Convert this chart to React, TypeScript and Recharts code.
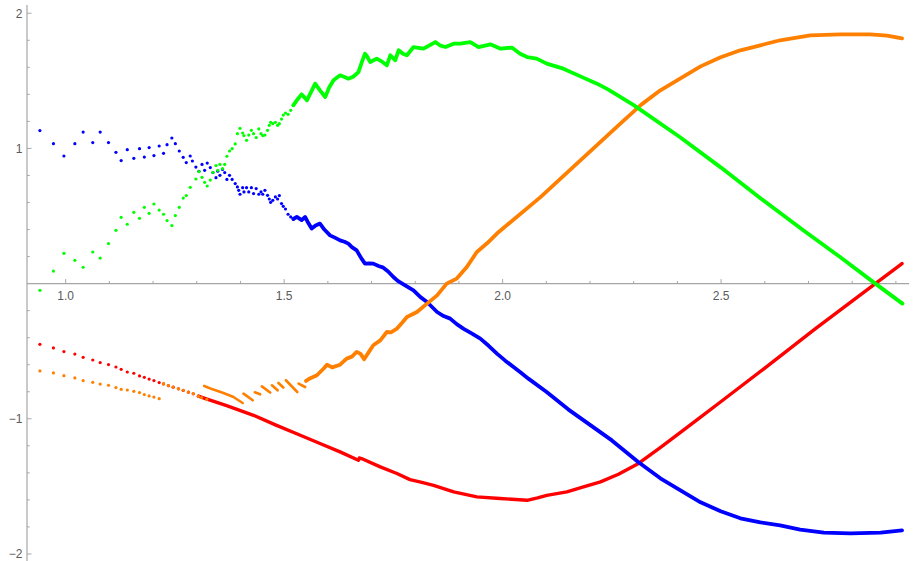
import { ComposedChart, XAxis, YAxis, Scatter, Line, ReferenceLine } from "recharts";

// plot range
const X_MIN = 0.9115;
const X_MAX = 2.93;
const Y_MIN = -2.052;
const Y_MAX = 2.061;

const BLUE = "#0000ff";
const GREEN = "#00ff00";
const ORANGE = "#ff8000";
const RED = "#ff0000";

// sparse points (left part), [x, y]
const blueDots = [
  [0.941, 1.132], [0.972, 1.035], [0.996, 0.944], [1.021, 1.035], [1.04, 1.121], [1.062, 1.043],
  [1.079, 1.121], [1.098, 1.043], [1.115, 0.971], [1.127, 0.91], [1.141, 0.991], [1.156, 0.927],
  [1.169, 0.998], [1.18, 0.936], [1.191, 1.006], [1.202, 0.947], [1.214, 1.018], [1.224, 0.964],
  [1.232, 1.028], [1.243, 1.077], [1.251, 1.035], [1.26, 0.981], [1.269, 0.934], [1.276, 0.895],
  [1.285, 0.944], [1.29, 0.907], [1.298, 0.862], [1.305, 0.831], [1.312, 0.882], [1.318, 0.838],
  [1.324, 0.892], [1.331, 0.858], [1.337, 0.821], [1.344, 0.784], [1.348, 0.831], [1.353, 0.801],
  [1.359, 0.845], [1.364, 0.821], [1.369, 0.771], [1.375, 0.801], [1.381, 0.771], [1.388, 0.74],
  [1.393, 0.715], [1.396, 0.69], [1.399, 0.661], [1.405, 0.71], [1.408, 0.678], [1.414, 0.71],
  [1.419, 0.678], [1.425, 0.71], [1.43, 0.666], [1.436, 0.703], [1.442, 0.661], [1.447, 0.678],
  [1.451, 0.661], [1.456, 0.69], [1.462, 0.653], [1.466, 0.626], [1.469, 0.601], [1.474, 0.616],
  [1.48, 0.641], [1.485, 0.626], [1.489, 0.651], [1.494, 0.592], [1.498, 0.572], [1.503, 0.552],
  [1.509, 0.513], [1.515, 0.493], [1.521, 0.478],
];

const greenDots = [
  [0.941, -0.05], [0.972, 0.093], [0.996, 0.224], [1.021, 0.172], [1.04, 0.121], [1.062, 0.234],
  [1.079, 0.189], [1.098, 0.296], [1.115, 0.394], [1.127, 0.49], [1.141, 0.439], [1.156, 0.527],
  [1.169, 0.483], [1.18, 0.564], [1.191, 0.52], [1.202, 0.589], [1.214, 0.544], [1.224, 0.513],
  [1.232, 0.466], [1.243, 0.429], [1.251, 0.503], [1.26, 0.564], [1.269, 0.633], [1.276, 0.651],
  [1.285, 0.712], [1.298, 0.774], [1.305, 0.828], [1.312, 0.786], [1.318, 0.749], [1.324, 0.722],
  [1.331, 0.766], [1.337, 0.823], [1.344, 0.873], [1.348, 0.838], [1.353, 0.882], [1.359, 0.851],
  [1.364, 0.882], [1.369, 0.942], [1.375, 0.981], [1.381, 0.998], [1.388, 1.033], [1.393, 1.109],
  [1.399, 1.149], [1.405, 1.114], [1.408, 1.095], [1.414, 1.06], [1.419, 1.099], [1.425, 1.134],
  [1.43, 1.109], [1.436, 1.08], [1.442, 1.144], [1.447, 1.109], [1.451, 1.095], [1.456, 1.099],
  [1.462, 1.134], [1.466, 1.171], [1.469, 1.193], [1.474, 1.183], [1.48, 1.193], [1.485, 1.171],
  [1.489, 1.183], [1.494, 1.217], [1.498, 1.247], [1.503, 1.262], [1.509, 1.252], [1.515, 1.282],
  [1.521, 1.319],
];

const orangeDots = [
  [0.941, -0.646], [0.972, -0.661], [0.996, -0.681], [1.021, -0.698], [1.04, -0.718], [1.062, -0.73],
  [1.079, -0.743], [1.098, -0.752], [1.115, -0.769], [1.127, -0.782], [1.141, -0.787], [1.156, -0.797],
  [1.169, -0.806], [1.18, -0.821], [1.191, -0.831], [1.202, -0.839], [1.214, -0.851],
  [1.224, -0.74], [1.235, -0.754], [1.246, -0.765], [1.258, -0.777], [1.269, -0.789], [1.281, -0.802],
  [1.292, -0.814], [1.304, -0.834], [1.311, -0.843], [1.323, -0.856],
];

const redDots = [
  [0.941, -0.449], [0.972, -0.476], [0.996, -0.503], [1.021, -0.521], [1.04, -0.545], [1.062, -0.565],
  [1.079, -0.584], [1.098, -0.599], [1.115, -0.617], [1.127, -0.634], [1.141, -0.654], [1.156, -0.663],
  [1.169, -0.683], [1.18, -0.693], [1.191, -0.706], [1.202, -0.717], [1.214, -0.732], [1.224, -0.742],
  [1.235, -0.755], [1.246, -0.766], [1.258, -0.778], [1.269, -0.79], [1.281, -0.803], [1.292, -0.815],
  [1.304, -0.833],
];

// dense parts (right), drawn as thick lines
const blueLine = [
  [1.521, 0.478], [1.529, 0.493], [1.54, 0.47], [1.548, 0.493], [1.555, 0.45], [1.563, 0.407],
  [1.572, 0.43], [1.582, 0.444], [1.592, 0.4], [1.605, 0.357], [1.616, 0.34], [1.628, 0.32],
  [1.638, 0.31], [1.647, 0.296], [1.655, 0.27], [1.666, 0.246], [1.676, 0.19], [1.685, 0.148],
  [1.695, 0.15], [1.704, 0.148], [1.716, 0.13], [1.727, 0.118], [1.738, 0.09], [1.75, 0.049],
  [1.76, 0.02], [1.775, -0.01], [1.796, -0.05], [1.812, -0.1], [1.827, -0.136], [1.85, -0.21],
  [1.865, -0.24], [1.88, -0.259], [1.895, -0.3], [1.91, -0.333], [1.93, -0.37], [1.949, -0.407],
  [1.968, -0.46], [1.987, -0.518], [2.006, -0.57], [2.025, -0.617], [2.042, -0.66], [2.059, -0.703],
  [2.1, -0.8], [2.15, -0.93], [2.2, -1.045], [2.25, -1.16], [2.311, -1.322], [2.361, -1.44],
  [2.407, -1.529], [2.453, -1.618], [2.499, -1.684], [2.544, -1.736], [2.59, -1.766], [2.635, -1.788],
  [2.681, -1.82], [2.735, -1.842], [2.796, -1.847], [2.865, -1.842], [2.914, -1.825],
];

const greenLine = [
  [1.521, 1.319], [1.529, 1.356], [1.54, 1.4], [1.552, 1.356], [1.562, 1.42], [1.571, 1.479],
  [1.582, 1.43], [1.594, 1.38], [1.603, 1.45], [1.613, 1.504], [1.628, 1.541], [1.637, 1.53],
  [1.647, 1.516], [1.658, 1.53], [1.67, 1.565], [1.678, 1.64], [1.685, 1.701], [1.69, 1.68],
  [1.697, 1.639], [1.712, 1.664], [1.725, 1.64], [1.735, 1.615], [1.743, 1.689], [1.754, 1.652],
  [1.762, 1.726], [1.772, 1.7], [1.781, 1.689], [1.796, 1.75], [1.819, 1.738], [1.846, 1.787],
  [1.858, 1.76], [1.869, 1.75], [1.888, 1.775], [1.903, 1.775], [1.926, 1.787], [1.945, 1.75],
  [1.972, 1.77], [1.995, 1.738], [2.021, 1.746], [2.04, 1.7], [2.056, 1.676], [2.078, 1.664],
  [2.101, 1.627], [2.139, 1.59], [2.178, 1.533], [2.216, 1.479], [2.242, 1.435], [2.3, 1.32],
  [2.407, 1.081], [2.499, 0.86], [2.59, 0.631], [2.688, 0.394], [2.773, 0.195], [2.853, 0.0],
  [2.915, -0.148],
];

// orange comes in short strokes before it turns into a solid line
const orangeStrokes = [
  [[1.317, -0.757], [1.338, -0.784], [1.361, -0.809], [1.384, -0.839], [1.405, -0.883]],
  [[1.407, -0.814], [1.428, -0.863]],
  [[1.433, -0.804], [1.445, -0.819]],
  [[1.449, -0.76], [1.468, -0.806]],
  [[1.472, -0.752], [1.485, -0.789]],
  [[1.487, -0.735], [1.498, -0.769]],
  [[1.504, -0.715], [1.53, -0.802]],
  [[1.533, -0.74], [1.548, -0.765]],
];

const orangeLine = [
  [1.55, -0.72], [1.56, -0.7], [1.575, -0.678], [1.59, -0.63], [1.598, -0.6], [1.61, -0.62],
  [1.628, -0.6], [1.643, -0.555], [1.655, -0.54], [1.666, -0.505], [1.675, -0.52], [1.683, -0.56],
  [1.697, -0.49], [1.704, -0.456], [1.72, -0.42], [1.735, -0.358], [1.745, -0.36], [1.758, -0.333],
  [1.77, -0.29], [1.781, -0.247], [1.804, -0.21], [1.827, -0.148], [1.85, -0.087], [1.872, 0.0],
  [1.895, 0.037], [1.918, 0.123], [1.941, 0.234], [1.965, 0.3], [1.991, 0.382], [2.086, 0.638],
  [2.178, 0.912], [2.27, 1.186], [2.318, 1.326], [2.361, 1.43], [2.407, 1.518], [2.453, 1.607],
  [2.499, 1.674], [2.544, 1.726], [2.59, 1.763], [2.635, 1.8], [2.704, 1.837], [2.773, 1.844],
  [2.841, 1.844], [2.88, 1.834], [2.914, 1.814],
];

const redLine = [
  [1.304, -0.833], [1.32, -0.85], [1.37, -0.905], [1.43, -0.974], [1.48, -1.045], [1.537, -1.122],
  [1.582, -1.183], [1.628, -1.245], [1.67, -1.307], [1.672, -1.29], [1.677, -1.294], [1.72, -1.356],
  [1.758, -1.405], [1.788, -1.45], [1.815, -1.47], [1.842, -1.492], [1.888, -1.541], [1.941, -1.578],
  [1.994, -1.59], [2.03, -1.597], [2.056, -1.603], [2.08, -1.585], [2.101, -1.566], [2.147, -1.541],
  [2.185, -1.504], [2.224, -1.467], [2.265, -1.41], [2.311, -1.33], [2.36, -1.215], [2.407, -1.1],
  [2.45, -0.995], [2.5, -0.872], [2.6, -0.625], [2.716, -0.333], [2.853, 0.0], [2.914, 0.148],
];

const xTickValues = [1.0, 1.1, 1.2, 1.3, 1.4, 1.5, 1.6, 1.7, 1.8, 1.9, 2.0, 2.1, 2.2, 2.3, 2.4, 2.5, 2.6, 2.7, 2.8, 2.9];
const xTickLabels = ["1.0", "", "", "", "", "1.5", "", "", "", "", "2.0", "", "", "", "", "2.5", "", "", "", ""];
const yTickValues = [-2, -1.8, -1.6, -1.4, -1.2, -1, -0.8, -0.6, -0.4, -0.2, 0.2, 0.4, 0.6, 0.8, 1, 1.2, 1.4, 1.6, 1.8, 2];
const yTickLabels = ["\u22122", "", "", "", "", "\u22121", "", "", "", "", "", "", "", "", "1", "", "", "", "", "2"];

const toPts = (arr: number[][]) => arr.map(([x, y]) => ({ x, y }));
const joinStrokes = (segs: number[][][]) =>
  segs.flatMap((s, i) =>
    i === 0 ? toPts(s) : [{ x: segs[i - 1][segs[i - 1].length - 1][0], y: null as any }, ...toPts(s)]
  );

const xTicks = xTickValues.map((v, i) => ({ x: v, y: 0, label: xTickLabels[i] }));
const yTicks = yTickValues.map((v, i) => ({ x: X_MIN, y: v, label: yTickLabels[i] }));

const AXIS = "#a6a6a6";
const LABEL = "#5a5a5a";
const FONT = "'Liberation Sans', Arial, sans-serif";

const dot = (color: string) => (p: any) => <circle cx={p.cx} cy={p.cy} r={1.6} fill={color} />;

const XTickMark = (p: any) => {
  const major = p.payload.label !== "";
  return (
    <g>
      <line x1={p.cx} x2={p.cx} y1={p.cy} y2={p.cy - (major ? 4.5 : 2.7)} stroke={AXIS} />
      {major && (
        <text x={p.cx} y={p.cy + 16} textAnchor="middle" fontSize={12} fontFamily={FONT} fill={LABEL}>
          {p.payload.label}
        </text>
      )}
    </g>
  );
};

const YTickMark = (p: any) => {
  const major = p.payload.label !== "";
  return (
    <g>
      <line x1={p.cx} x2={p.cx + (major ? 4.5 : 2.7)} y1={p.cy} y2={p.cy} stroke={AXIS} />
      {major && (
        <text x={p.cx - 4.5} y={p.cy + 4.5} textAnchor="end" fontSize={12} fontFamily={FONT} fill={LABEL}>
          {p.payload.label}
        </text>
      )}
    </g>
  );
};

const lineProps = {
  type: "linear" as const,
  dataKey: "y",
  dot: false,
  strokeWidth: 3.8,
  strokeLinejoin: "round" as const,
  strokeLinecap: "round" as const,
  isAnimationActive: false,
};

export default function App() {
  return (
    <div style={{ position: "absolute", left: 0, top: 0, background: "#fff" }}>
      <ComposedChart width={913} height={561} margin={{ top: 5, right: 4, bottom: 0, left: 27 }}>
        <XAxis type="number" dataKey="x" domain={[X_MIN, X_MAX]} hide />
        <YAxis type="number" dataKey="y" domain={[Y_MIN, Y_MAX]} hide />
        <ReferenceLine y={0} stroke={AXIS} strokeWidth={1.2} />
        <ReferenceLine x={X_MIN} stroke={AXIS} strokeWidth={1.2} />
        <Scatter data={xTicks} dataKey="y" shape={XTickMark} isAnimationActive={false} />
        <Scatter data={yTicks} dataKey="y" shape={YTickMark} isAnimationActive={false} />

        <Scatter data={toPts(redDots)} dataKey="y" shape={dot(RED)} isAnimationActive={false} />
        <Line data={toPts(redLine)} stroke={RED} {...lineProps} strokeWidth={3.4} />
        <Scatter data={toPts(blueDots)} dataKey="y" shape={dot(BLUE)} isAnimationActive={false} />
        <Line data={toPts(blueLine)} stroke={BLUE} {...lineProps} />
        <Scatter data={toPts(orangeDots)} dataKey="y" shape={dot(ORANGE)} isAnimationActive={false} />
        <Line data={joinStrokes(orangeStrokes)} stroke={ORANGE} {...lineProps} strokeWidth={2.6} />
        <Line data={toPts(orangeLine)} stroke={ORANGE} {...lineProps} />
        <Scatter data={toPts(greenDots)} dataKey="y" shape={dot(GREEN)} isAnimationActive={false} />
        <Line data={toPts(greenLine)} stroke={GREEN} {...lineProps} />
      </ComposedChart>
    </div>
  );
}
